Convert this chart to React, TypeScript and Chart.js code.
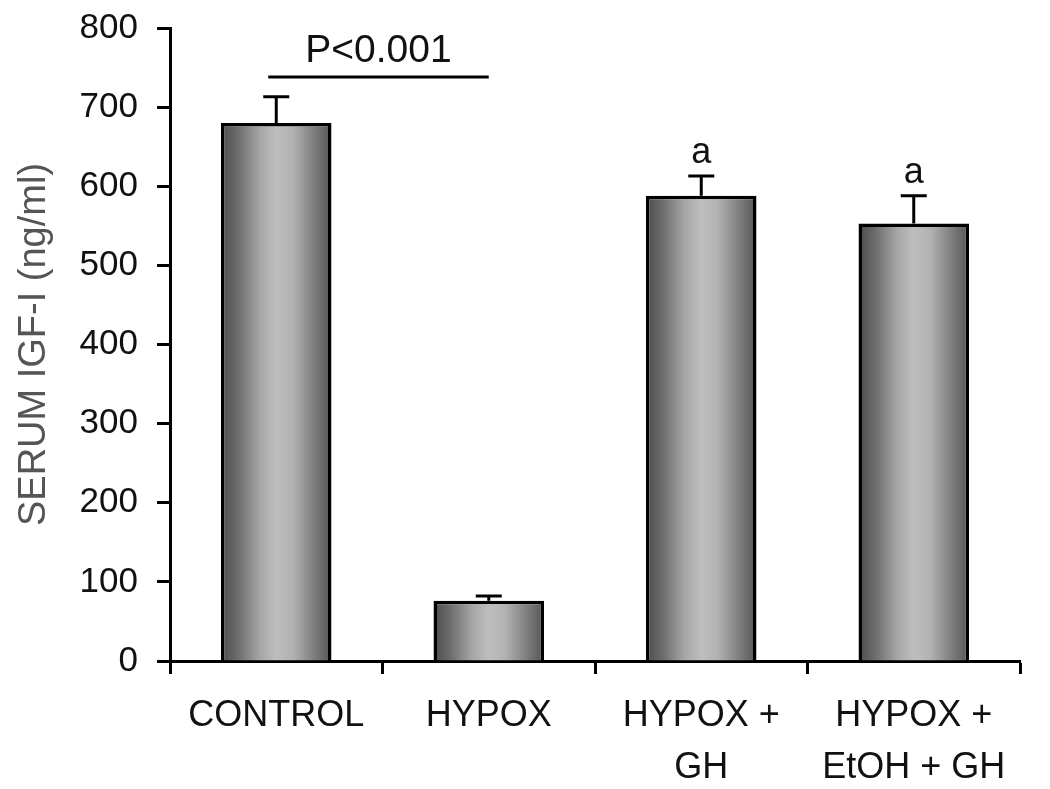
import React, { useEffect, useRef } from 'react';
import { Chart, registerables } from 'chart.js';

Chart.register(...registerables);

// ---- data ----
const CATEGORIES: string[][] = [['CONTROL'], ['HYPOX'], ['HYPOX +', 'GH'], ['HYPOX +', 'EtOH + GH']];
const MEANS: number[] = [680, 76, 588, 553];
const ERRORS: number[] = [33, 6, 25, 35];
const SIG_LETTERS: string[] = ['', '', 'a', 'a'];
const Y_MIN = 0;
const Y_MAX = 800;
const Y_STEP = 100;
const Y_TITLE = 'SERUM IGF-I (ng/ml)';
const P_TEXT = 'P<0.001';
const P_FROM: number[] = [0, 1]; // category indices spanned by the bracket
const P_LINE_VALUE = 738;
const P_TEXT_VALUE = 770;

const FONT = "'Liberation Sans', Arial, Helvetica, sans-serif";
const BAR_PCT = 0.52;

const annotations = {
  id: 'annotations',
  afterDatasetsDraw(chart: any) {
    const { ctx, scales } = chart;
    const xs = scales.x;
    const ys = scales.y;
    ctx.save();
    ctx.strokeStyle = '#000';
    ctx.fillStyle = '#000';
    ctx.lineWidth = 3;
    ctx.lineCap = 'butt';
    // error bars
    MEANS.forEach((m, i) => {
      const cx = xs.getPixelForValue(i);
      const y0 = ys.getPixelForValue(m);
      const y1 = ys.getPixelForValue(m + ERRORS[i]);
      ctx.beginPath();
      ctx.moveTo(cx, y0);
      ctx.lineTo(cx, y1);
      ctx.moveTo(cx - 13, y1);
      ctx.lineTo(cx + 13, y1);
      ctx.stroke();
      const letter = SIG_LETTERS[i];
      if (letter) {
        ctx.font = `36px ${FONT}`;
        ctx.textAlign = 'center';
        ctx.textBaseline = 'alphabetic';
        ctx.fillStyle = '#111';
        ctx.fillText(letter, cx, y1 - 13);
      }
    });
    // significance bracket
    const xa = xs.getPixelForValue(P_FROM[0]) - 8;
    const xb = xs.getPixelForValue(P_FROM[1]);
    const yl = ys.getPixelForValue(P_LINE_VALUE);
    ctx.beginPath();
    ctx.moveTo(xa, yl);
    ctx.lineTo(xb, yl);
    ctx.stroke();
    ctx.font = `39px ${FONT}`;
    ctx.textAlign = 'center';
    ctx.textBaseline = 'middle';
    ctx.fillStyle = '#111';
    ctx.fillText(P_TEXT, (xa + xb) / 2, ys.getPixelForValue(P_TEXT_VALUE));
    ctx.restore();
  },
};

export default function App() {
  const ref = useRef<HTMLCanvasElement | null>(null);

  useEffect(() => {
    document.body.style.margin = '0';
    const canvas = ref.current;
    if (!canvas) return;
    const chart = new Chart(canvas, {
      type: 'bar',
      data: {
        labels: CATEGORIES as any,
        datasets: [
          {
            data: MEANS,
            backgroundColor: (c: any) => {
              const ch = c.chart;
              const xs = ch.scales?.x;
              if (!xs || !ch.chartArea || c.dataIndex === undefined) return '#999';
              const cx = xs.getPixelForValue(c.dataIndex);
              const w = (xs.width / CATEGORIES.length) * BAR_PCT;
              const g = ch.ctx.createLinearGradient(cx - w / 2, 0, cx + w / 2, 0);
              g.addColorStop(0, '#4c4c4c');
              g.addColorStop(0.15, '#6c6c6c');
              g.addColorStop(0.35, '#a6a6a6');
              g.addColorStop(0.5, '#bebebe');
              g.addColorStop(0.65, '#b2b2b2');
              g.addColorStop(0.85, '#7c7c7c');
              g.addColorStop(1, '#555555');
              return g;
            },
            borderColor: '#000',
            borderWidth: 3.5,
            barPercentage: BAR_PCT,
            categoryPercentage: 1,
          },
        ],
      },
      options: {
        animation: false,
        responsive: true,
        maintainAspectRatio: false,
        layout: { padding: { top: 28, right: 30, left: 0, bottom: 0 } },
        plugins: { legend: { display: false }, tooltip: { enabled: false } },
        scales: {
          x: {
            offset: true,
            grid: {
              display: true,
              drawOnChartArea: false,
              drawTicks: true,
              tickLength: 13,
              tickWidth: 3,
              tickColor: '#000',
              offset: true,
            },
            border: { display: true, color: '#000', width: 3 },
            ticks: {
              font: { size: 36, family: FONT, lineHeight: 1.42 },
              color: '#111',
              padding: 17,
              maxRotation: 0,
              autoSkip: false,
            },
            afterFit: (s: any) => {
              s.height = 128;
              s.paddingLeft = 0;
              s.paddingRight = 0;
            },
          },
          y: {
            min: Y_MIN,
            max: Y_MAX,
            ticks: {
              stepSize: Y_STEP,
              font: { size: 35, family: FONT },
              color: '#111',
              padding: 19,
            },
            grid: {
              display: true,
              drawOnChartArea: false,
              tickLength: 13,
              tickWidth: 3,
              tickColor: '#000',
            },
            border: { display: true, color: '#000', width: 3 },
            title: {
              display: true,
              text: Y_TITLE,
              font: { size: 38, family: FONT },
              color: '#555',
              padding: { top: 12, bottom: 0 },
            },
            afterFit: (s: any) => {
              s.width = 170;
              s.paddingTop = 0;
              s.paddingBottom = 0;
            },
          },
        },
      },
      plugins: [annotations],
    });
    return () => chart.destroy();
  }, []);

  return (
    <div style={{ position: 'absolute', left: 0, top: 0, width: 1050, height: 789, background: '#fff' }}>
      <canvas ref={ref} />
    </div>
  );
}
